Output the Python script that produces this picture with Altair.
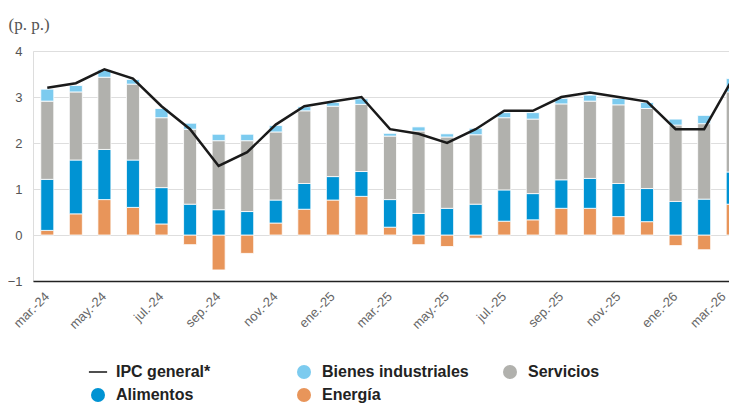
import altair as alt
import pandas as pd

months = ["mar.-24", "abr.-24", "may.-24", "jun.-24", "jul.-24", "ago.-24", "sep.-24", "oct.-24",
          "nov.-24", "dic.-24", "ene.-25", "feb.-25", "mar.-25", "abr.-25", "may.-25", "jun.-25",
          "jul.-25", "ago.-25", "sep.-25", "oct.-25", "nov.-25", "dic.-25", "ene.-26", "feb.-26",
          "mar.-26"]
energia = [0.10, 0.46, 0.77, 0.60, 0.24, -0.21, -0.76, -0.40, 0.26, 0.56, 0.76, 0.84, 0.17,
           -0.21, -0.25, -0.07, 0.30, 0.33, 0.58, 0.58, 0.40, 0.29, -0.23, -0.32, 0.67]
alimentos = [1.11, 1.17, 1.09, 1.03, 0.79, 0.67, 0.55, 0.51, 0.50, 0.56, 0.51, 0.54, 0.60,
             0.47, 0.58, 0.67, 0.68, 0.57, 0.62, 0.65, 0.72, 0.72, 0.73, 0.78, 0.70]
servicios = [1.70, 1.48, 1.57, 1.65, 1.52, 1.63, 1.50, 1.54, 1.48, 1.58, 1.53, 1.46, 1.38,
             1.79, 1.55, 1.51, 1.57, 1.62, 1.65, 1.68, 1.71, 1.74, 1.66, 1.64, 1.74]
bienes = [0.26, 0.14, 0.16, 0.10, 0.20, 0.13, 0.14, 0.14, 0.14, 0.09, 0.08, 0.12, 0.06,
          0.09, 0.07, 0.14, 0.11, 0.14, 0.12, 0.13, 0.14, 0.13, 0.13, 0.18, 0.29]
ipc = [3.2, 3.3, 3.6, 3.4, 2.8, 2.3, 1.5, 1.8, 2.4, 2.8, 2.9, 3.0, 2.3, 2.2, 2.0, 2.3,
       2.7, 2.7, 3.0, 3.1, 3.0, 2.9, 2.3, 2.3, 3.4]

# legend order (filled column by column, 2 rows)
cats = ["IPC general*", "Alimentos", "Bienes industriales", "Energía", "Servicios"]
colors = ["#1a1a1a", "#0093d3", "#7ccbef", "#e8955a", "#b1b1ad"]
shapes = ["M-1.3,-0.11H1.3V0.11H-1.3Z", "circle", "circle", "circle", "circle"]

rows = []
for i, m in enumerate(months):
    for name, vals, o in [("Energía", energia, 1), ("Alimentos", alimentos, 2),
                          ("Servicios", servicios, 3), ("Bienes industriales", bienes, 4)]:
        rows.append({"mes": m, "serie": name, "valor": vals[i], "orden": o})
bars_df = pd.DataFrame(rows)
line_df = pd.DataFrame({"mes": months, "valor": ipc, "serie": "IPC general*"})
leg_df = pd.DataFrame({"mes": [months[0]] * len(cats), "valor": [0] * len(cats), "serie": cats})

xscale = alt.Scale(paddingInner=0.545, paddingOuter=0.2725)
x = alt.X("mes:N", sort=months, scale=xscale,
          axis=alt.Axis(values=months[::2], labelAngle=-45, labelAlign="right",
                        labelBaseline="middle", labelPadding=13, labelFontSize=13,
                        labelOffset={"condition": {"test": "datum.value === 'mar.-26'",
                                                   "value": -9}, "value": 0},
                        labelColor="#666", labelFont="Liberation Sans", grid=False,
                        ticks=False, domain=True, domainColor="#222", domainWidth=1.5,
                        title=None))
yscale = alt.Scale(domain=[-1, 4], nice=False)
yaxis = alt.Axis(values=[-1, 0, 1, 2, 3, 4], domain=False, ticks=False, labelPadding=11,
                 labelFontSize=13, labelColor="#555", labelFont="Liberation Sans",
                 gridColor="#dedede", gridWidth=1, title="(p. p.)", titleAngle=0,
                 titleX=-25, titleY=-22, titleAlign="left", titleBaseline="alphabetic",
                 titleFont="Liberation Serif", titleFontSize=17, titleFontWeight="normal",
                 titleColor="#555")

legend = alt.Legend(title=None, orient="none", legendX=57, legendY=313, columns=3,
                    gridAlign="all", columnPadding=33, rowPadding=7, symbolSize=196,
                    labelFont="Liberation Sans", labelFontSize=16, labelFontWeight="bold",
                    labelColor="#222", labelOffset=10, symbolOpacity=1, symbolStrokeWidth=0,
                    labelLimit=300)
color = alt.Color("serie:N", scale=alt.Scale(domain=cats, range=colors), legend=legend)

bars = alt.Chart(bars_df).mark_bar(stroke="white", strokeWidth=0.8).encode(
    x=x,
    y=alt.Y("valor:Q", stack="zero", scale=yscale, axis=yaxis),
    color=color,
    order=alt.Order("orden:Q"),
)
line = alt.Chart(line_df).mark_line(strokeWidth=2.5).encode(
    x=x,
    y=alt.Y("valor:Q", scale=yscale),
    color=color,
)
pts = alt.Chart(leg_df).mark_point(filled=True, opacity=0).encode(
    x=x,
    y=alt.Y("valor:Q", scale=yscale),
    color=color,
    shape=alt.Shape("serie:N", scale=alt.Scale(domain=cats, range=shapes), legend=legend),
)

chart = alt.layer(bars, line, pts).properties(
    width=714, height=230,
    autosize=alt.AutoSizeParams(type="none"),
    padding={"left": 25, "top": 43, "right": -18, "bottom": 122},
).configure_view(stroke=None).configure(background="white")

chart.save("out.html", embed_options={"renderer": "svg", "actions": False})
